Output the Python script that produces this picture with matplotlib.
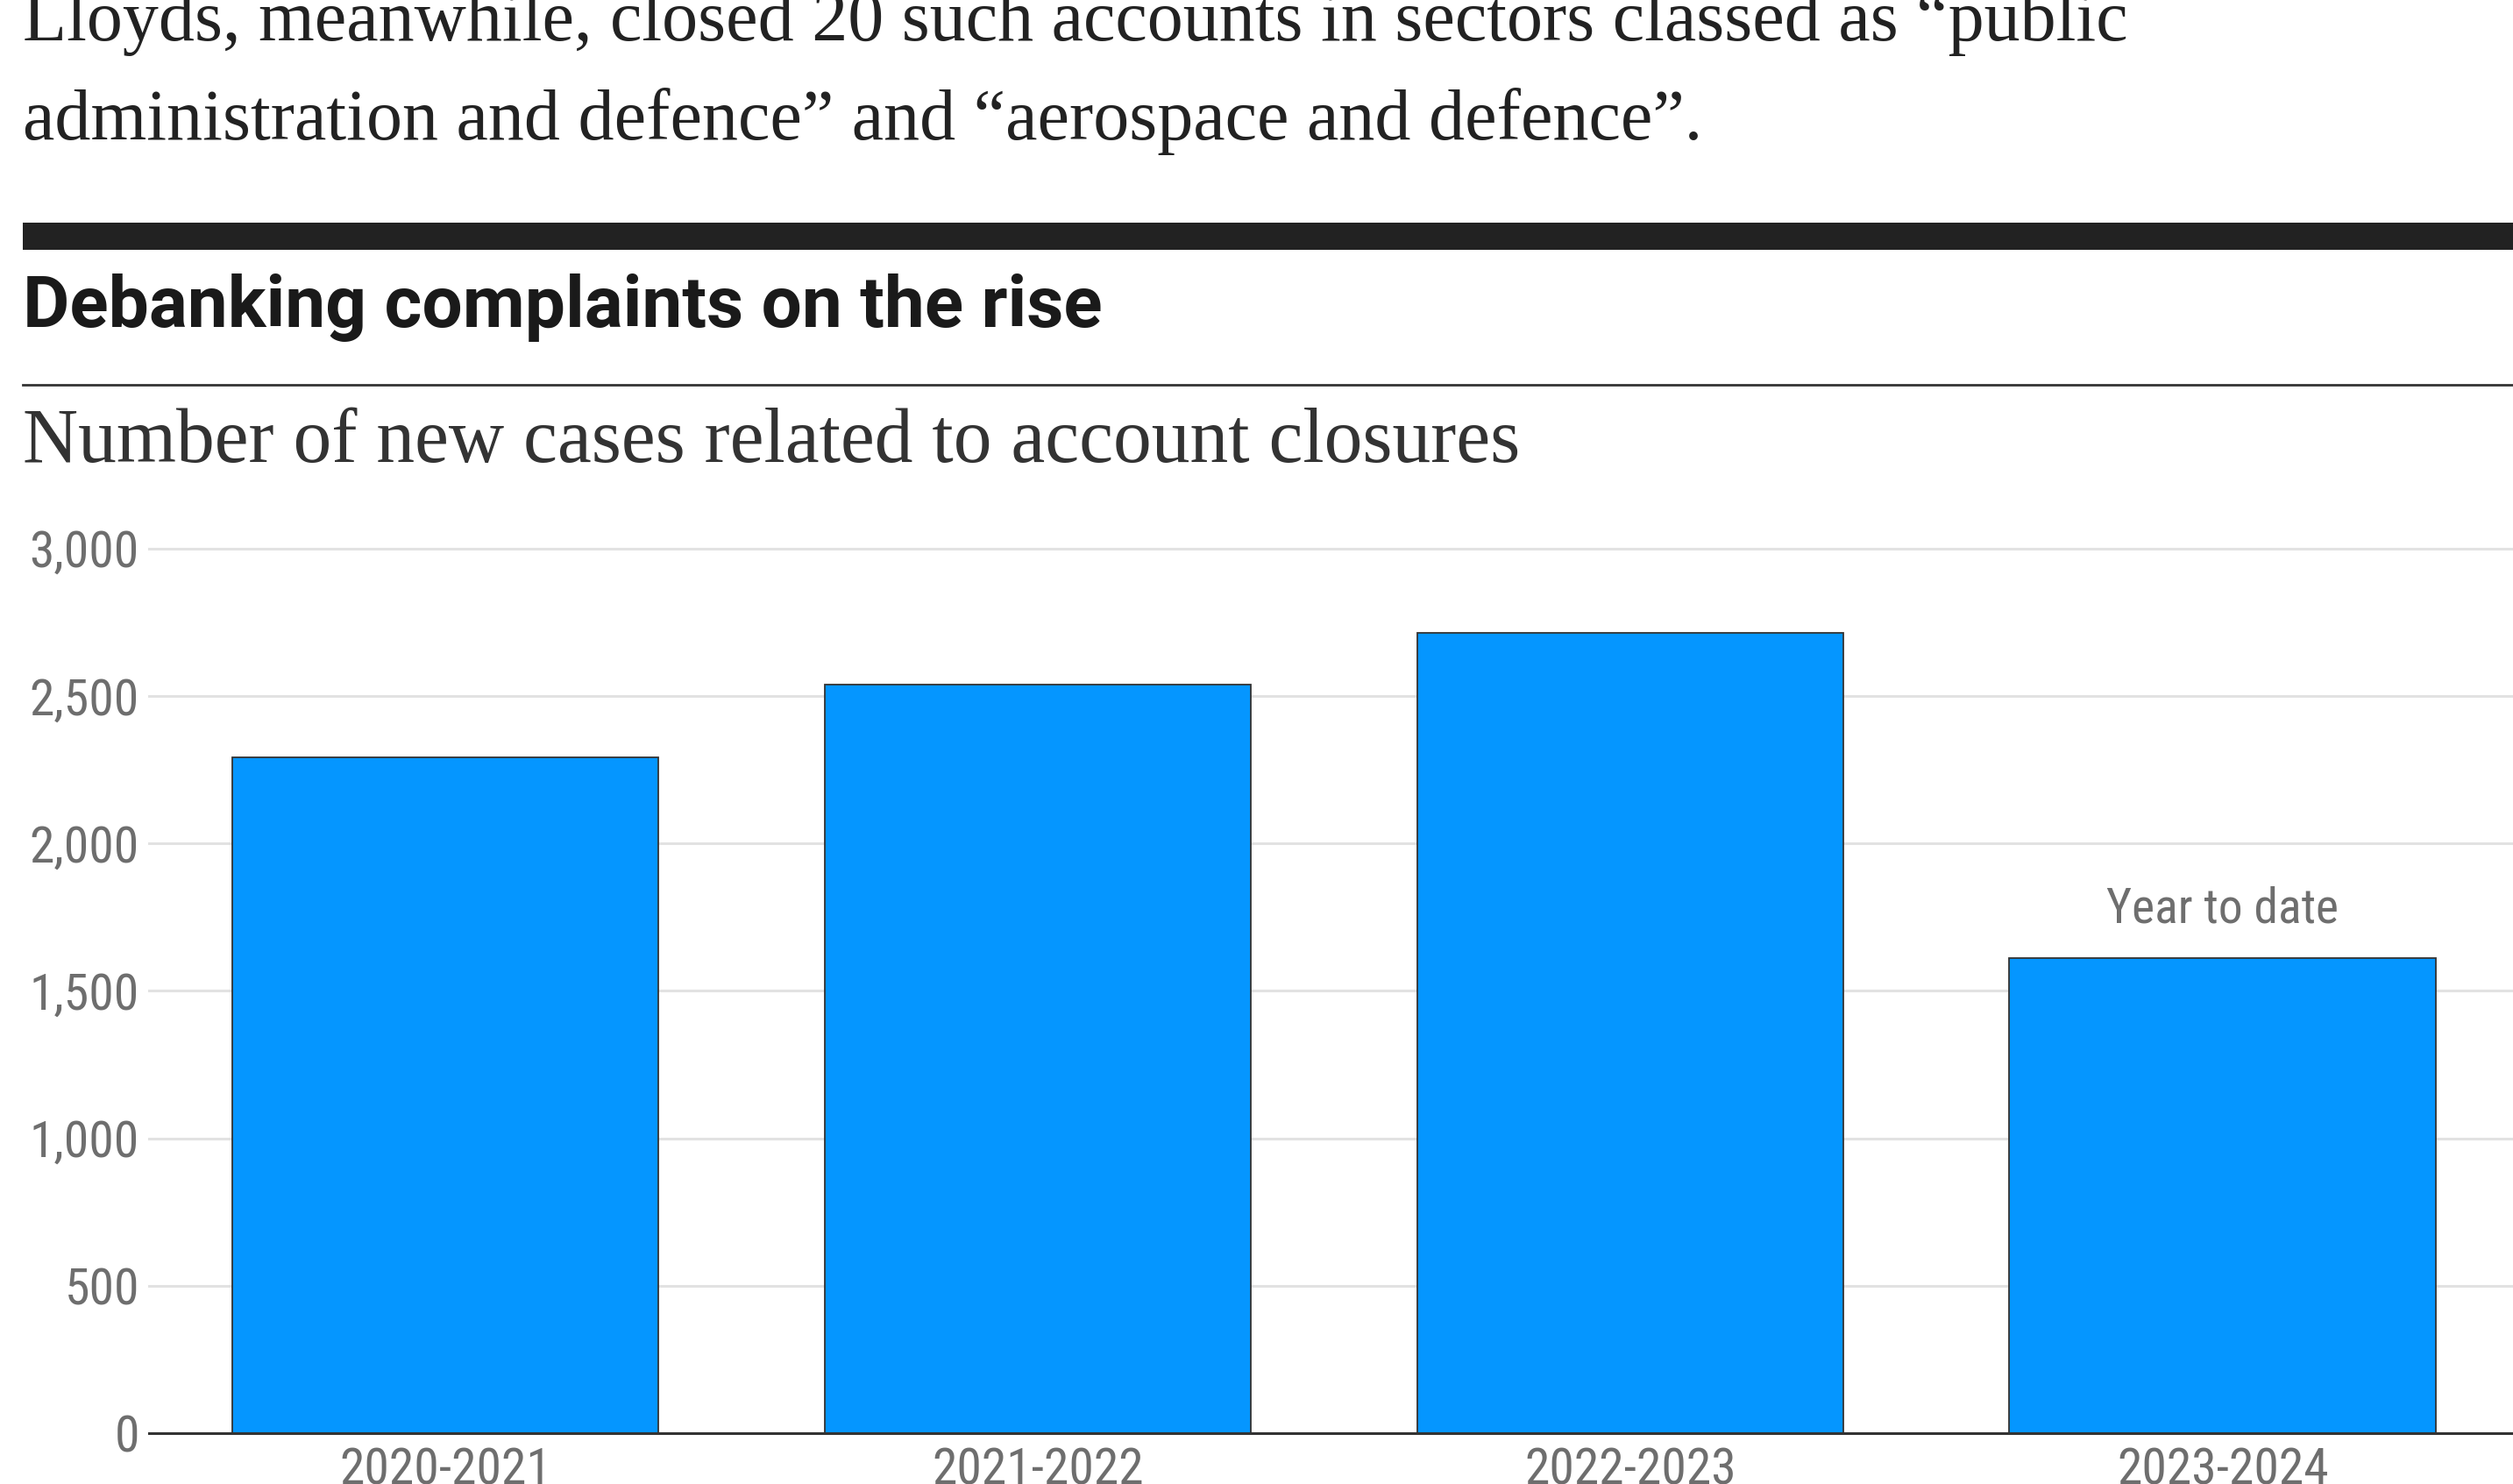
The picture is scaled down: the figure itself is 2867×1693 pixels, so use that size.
import matplotlib.pyplot as plt
from matplotlib.lines import Line2D
from matplotlib.patches import Rectangle

periods = ['2020-2021', '2021-2022', '2022-2023', '2023-2024']
cases = [2292, 2537, 2714, 1612]
yticks = [0, 500, 1000, 1500, 2000, 2500, 3000]
ytick_labels = ['0', '500', '1,000', '1,500', '2,000', '2,500', '3,000']
note = 'Year to date'

W, H = 2867, 1693
fig = plt.figure(figsize=(W / 100, H / 100), dpi=100)
fig.patch.set_facecolor('white')

serif = ['Liberation Serif', 'DejaVu Serif']
narrow = ['Roboto Condensed', 'Liberation Sans Narrow', 'DejaVu Sans']
grey = '#6e6e6e'


def fy(px):
    # pixel row from top -> figure fraction
    return 1 - px / H


# article text above the chart
fig.text(26 / W, fy(46), 'Lloyds, meanwhile, closed 20 such accounts in sectors classed as \u201cpublic',
         family=serif, fontsize=59, color='#222222', va='baseline')
fig.text(26 / W, fy(159), 'administration and defence\u201d and \u201caerospace and defence\u201d.',
         family=serif, fontsize=59, color='#222222', va='baseline')

# heavy rule, title, thin rule, subtitle
fig.patches.append(Rectangle((26 / W, fy(285)), 1, 31 / H, transform=fig.transFigure,
                             color='#222222', lw=0))
fig.text(26 / W, fy(373), 'Debanking complaints on the rise', family=['Roboto', 'DejaVu Sans'],
         fontweight='bold', fontsize=59, color='#1a1a1a', va='baseline')
fig.lines.append(Line2D([26 / W, 1], [fy(439), fy(439)], transform=fig.transFigure,
                        color='#333333', lw=2))
fig.text(26 / W, fy(527), 'Number of new cases related to account closures',
         family=serif, fontsize=63, color='#333333', va='baseline')

ax = fig.add_axes([170 / W, fy(1635), 1 - 170 / W, (1635 - 625.5) / H])
x = range(len(periods))
ax.bar(x, cases, width=0.72, color='#0596ff', edgecolor='#333333', linewidth=1.3, zorder=2)
ax.set_xlim(-0.5, 3.49)
ax.set_ylim(0, 3000)
ax.set_yticks(yticks)
ax.set_yticklabels(ytick_labels)
ax.set_xticks(list(x))
ax.set_xticklabels(periods)
ax.grid(axis='y', color='#e2e2e2', linewidth=2.2, zorder=0)
for g in ax.get_ygridlines():
    g.set_clip_on(False)
for s in ('top', 'right', 'left'):
    ax.spines[s].set_visible(False)
ax.spines['bottom'].set_color('#333333')
ax.spines['bottom'].set_linewidth(2.2)
ax.spines['bottom'].set_zorder(3)
ax.tick_params(axis='both', length=0, labelcolor=grey, labelsize=41.5)
ax.tick_params(axis='y', pad=8)
ax.tick_params(axis='x', pad=11)
for lab in ax.get_xticklabels() + ax.get_yticklabels():
    lab.set_family(narrow)

ax.annotate(note, (3, cases[3]), xytext=(0, 21), textcoords='offset points',
            ha='center', va='bottom', family=narrow, fontsize=40, color=grey)

fig.savefig('out.png', dpi=100)
